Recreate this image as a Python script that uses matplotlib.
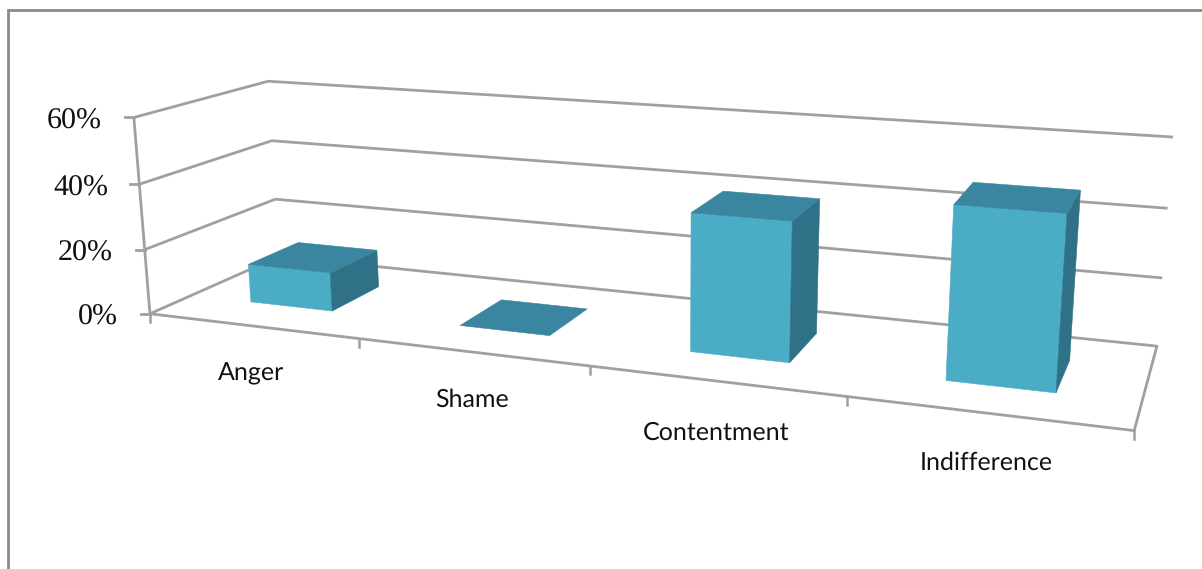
from matplotlib import pyplot as plt
import numpy as np

categories = ["Anger", "Shame", "Contentment", "Indifference"]
values = [12, 0, 40, 48]  # percent
yTicks = [0, 20, 40, 60]
yTickLabels = ["0%", "20%", "40%", "60%"]

# where the chart box lands on the canvas: (x, depth, z) -> pixel
worldPoints = [
    (0, 0, 0), (1, 0, 0), (2, 0, 0), (3, 0, 0), (4, 0, 0),
    (0, 0, 20), (0, 0, 40), (0, 0, 60),
    (0, 1, 0), (0, 1, 20), (0, 1, 40), (0, 1, 60),
    (4, 1, 0), (4, 1, 20), (4, 1, 40), (4, 1, 60),
]
pixelPoints = [
    (150, 314), (359, 339), (591, 367), (847, 397), (1134, 430),
    (145, 249), (139, 184), (134, 117),
    (279, 256), (275, 199), (272, 141), (268, 82),
    (1157, 346), (1162, 278), (1168, 208), (1173, 137),
]
catLabelPos = [(251, 374), (472, 400), (716, 433), (986, 463)]
yLabelRight = [118, 113, 108, 102]
yLabelMiddle = [317, 253, 188, 121]

GRID = "#a0a0a0"
FRONT = "#4bacc6"
TOP = "#3a859f"
SIDE = "#2f7187"
GAP = 0.3  # space each side of a bar, as a share of one category

plt.rcParams["text.hinting"] = "no_hinting"
plt.rcParams["text.hinting_factor"] = 1


def fitCamera(world, pixel):
    rows = []
    rhs = []
    for (x, y, z), (u, v) in zip(world, pixel):  # direct linear transform
        rows.append([x, y, z, 1, 0, 0, 0, 0, -u * x, -u * y, -u * z])
        rows.append([0, 0, 0, 0, x, y, z, 1, -v * x, -v * y, -v * z])
        rhs += [u, v]
    params = np.linalg.lstsq(np.array(rows, float), np.array(rhs, float), rcond=None)[0]
    return np.append(params, 1).reshape(3, 4)


camera = fitCamera(worldPoints, pixelPoints)


def project(x, y, z):
    u, v, w = camera @ np.array([x, y, z, 1.0])
    return u / w, v / w


def gridLine(ax, points):
    xs, ys = zip(*[project(*p) for p in points])
    ax.plot(xs, ys, color=GRID, lw=2.0, solid_capstyle="butt", zorder=1)


def face(ax, points, color):
    xs, ys = zip(*[project(*p) for p in points])
    ax.fill(xs, ys, color=color, lw=0.4, zorder=3)


fig = plt.figure(figsize=(12.02, 5.69), dpi=100)
ax = fig.add_axes([0, 0, 1, 1])
ax.set_xlim(0, 1202)
ax.set_ylim(569, 0)
ax.axis("off")

# outer frame, only left and top are inside the canvas
ax.plot([8, 8, 1202], [569, 10, 10], color="#8a8a8a", lw=2.0, solid_joinstyle="miter")

# side wall and back wall lines
for z in yTicks[1:]:
    gridLine(ax, [(0, 0, z), (0, 1, z), (4, 1, z)])
# floor outline
gridLine(ax, [(0, 1, 0), (4, 1, 0), (4, 0, 0), (0, 0, 0), (0, 1, 0)])
# value axis and its ticks
gridLine(ax, [(0, 0, 0), (0, 0, yTicks[-1])])
for z, label, right, middle in zip(yTicks, yTickLabels, yLabelRight, yLabelMiddle):
    px, py = project(0, 0, z)
    ax.plot([px - 9, px], [py, py], color=GRID, lw=2.0, zorder=1)
    ax.text(right, middle, label, family="Liberation Serif", fontsize=21.8,
            color="#111111", ha="right", va="center")
# category ticks
for i in range(len(categories) + 1):
    px, py = project(i, 0, 0)
    ax.plot([px, px], [py, py + 8], color=GRID, lw=1.8, zorder=1)

# bars, left to right
for i, (name, value, pos) in enumerate(zip(categories, values, catLabelPos)):
    x0, x1 = i + GAP, i + 1 - GAP
    y0, y1 = GAP, 1 - GAP
    if value > 0:
        face(ax, [(x0, y0, 0), (x1, y0, 0), (x1, y0, value), (x0, y0, value)], FRONT)
        face(ax, [(x1, y0, 0), (x1, y1, 0), (x1, y1, value), (x1, y0, value)], SIDE)
    face(ax, [(x0, y0, value), (x1, y0, value), (x1, y1, value), (x0, y1, value)], TOP)
    ax.text(pos[0], pos[1], name, family="Lato", fontsize=17.8,
            color="#111111", ha="center", va="center")

plt.savefig("out.png", dpi=100)
